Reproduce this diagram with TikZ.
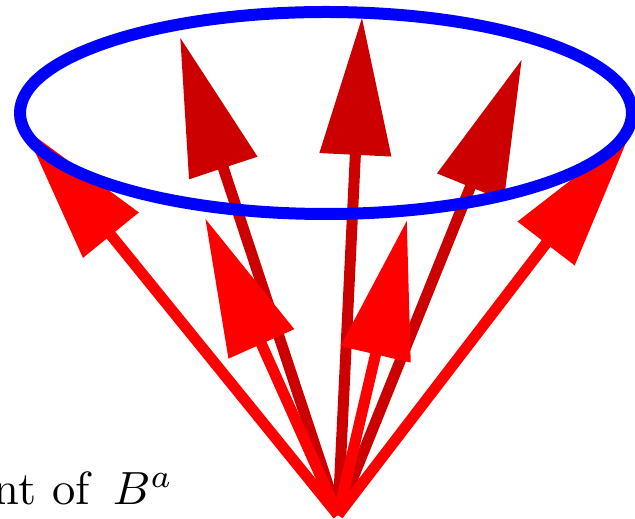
\documentclass[tikz,border=0pt]{standalone}
\usetikzlibrary{arrows.meta}
\definecolor{backred}{HTML}{CC0000}
\definecolor{frontred}{HTML}{FF0000}
\definecolor{ringblue}{HTML}{0000FF}
\tikzset{
  spin/.style={-{Triangle[length=2.76cm, width=1.38cm]}, line width=0.22cm},
  backspin/.style={spin, draw=backred, fill=backred},
  frontspin/.style={spin, draw=frontred, fill=frontred},
  ring/.style={draw=ringblue, line width=0.24cm}
}

\begin{document}
\begin{tikzpicture}[x=0.02cm, y=-0.02cm]
  \useasboundingbox (0,0) rectangle (635,519);

  \coordinate (apex) at (338,515);
  % tips behind the cone
  \coordinate (b1) at (180,37);
  \coordinate (b2) at (362,17);
  \coordinate (b3) at (522,59);
  % tips in front
  \coordinate (f1) at (24,128);
  \coordinate (f2) at (205,218);
  \coordinate (f3) at (407,220);
  \coordinate (f4) at (630,134);

  \draw[backspin] (apex) -- (b1);
  \draw[backspin] (apex) -- (b2);
  \draw[backspin] (apex) -- (b3);

  \draw[frontspin] (apex) -- (f1);
  \draw[frontspin] (apex) -- (f2);
  \draw[frontspin] (apex) -- (f3);
  \draw[frontspin] (apex) -- (f4);

  \draw[ring] (326,113) ellipse [x radius=306, y radius=101];

  \node[anchor=base east, inner sep=0pt, scale=2.65] (lbl) at (174,504) {nt of\ \,$B^a$};
\end{tikzpicture}
\end{document}
